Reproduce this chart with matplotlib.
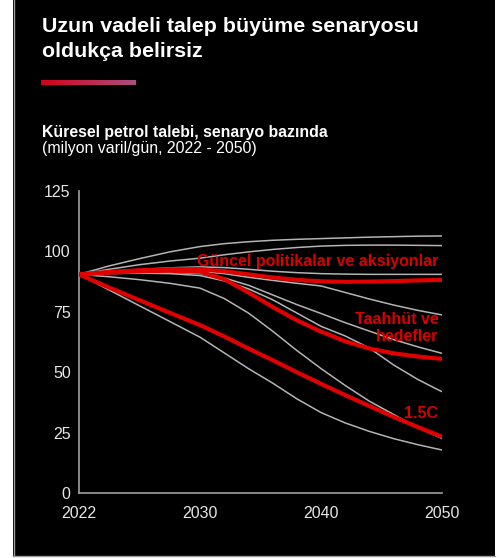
import numpy as np
import matplotlib
matplotlib.use("Agg")
import matplotlib.pyplot as plt
from matplotlib.patches import Rectangle
from matplotlib.lines import Line2D
from matplotlib.colors import LinearSegmentedColormap

plt.rcParams['font.family'] = ['Liberation Sans', 'DejaVu Sans']

# yillar ve senaryo egrileri (milyon varil/gun)
years = [2022, 2024, 2026, 2028, 2030, 2032, 2034, 2036, 2038, 2040, 2042, 2044, 2046, 2048, 2050]

gray_1 = [90.5, 94.0, 97.0, 99.8, 102.0, 103.2, 104.0, 104.6, 105.0, 105.3, 105.6, 105.9, 106.1, 106.3, 106.4]
gray_2 = [90.5, 92.6, 94.5, 96.0, 97.2, 98.6, 99.8, 100.8, 101.6, 102.2, 102.5, 102.6, 102.6, 102.5, 102.4]
gray_3 = [90.5, 91.5, 92.5, 93.2, 93.6, 93.3, 92.6, 91.8, 91.2, 90.8, 90.6, 90.5, 90.5, 90.5, 90.5]
gray_4 = [90.5, 91.2, 91.8, 92.0, 91.8, 90.8, 89.3, 88.0, 86.8, 85.7, 83.0, 80.3, 77.8, 75.6, 73.7]
gray_5 = [90.5, 91.0, 91.4, 91.4, 90.8, 89.0, 86.0, 82.0, 78.0, 74.3, 70.5, 67.0, 63.5, 60.5, 57.8]
gray_6 = [90.5, 90.8, 91.0, 90.8, 90.0, 87.8, 84.5, 80.0, 74.5, 69.0, 65.0, 60.0, 53.0, 47.0, 41.9]
gray_7 = [90.5, 89.5, 88.3, 86.8, 84.8, 80.5, 74.5, 67.0, 59.0, 51.5, 44.5, 38.0, 32.5, 27.0, 22.6]
gray_8 = [90.5, 84.0, 77.5, 71.0, 64.5, 58.0, 51.5, 45.5, 39.0, 33.3, 29.0, 25.5, 22.5, 20.0, 17.8]

current_policies = [90.5, 91.5, 92.2, 92.6, 92.6, 91.8, 90.5, 89.2, 88.2, 87.6, 87.4, 87.5, 87.7, 88.0, 88.2]
pledges = [90.5, 91.2, 91.8, 92.0, 91.6, 88.5, 83.0, 77.0, 71.5, 66.8, 62.8, 59.8, 57.8, 56.5, 55.5]
paris_15 = [90.5, 85.0, 79.8, 74.6, 69.5, 64.8, 59.8, 55.0, 50.0, 45.2, 40.5, 36.0, 31.5, 27.3, 23.3]

tick_years = [2022, 2030, 2040, 2050]
y_ticks = [0, 25, 50, 75, 100, 125]

W, H = 500, 558
fig = plt.figure(figsize=(W / 100, H / 100), dpi=100)
fig.patch.set_facecolor('white')

# siyah panel, solda ve altta gri kenar
fig.patches.append(Rectangle((13 / W, 2 / H), 482 / W, 1 - 2 / H, transform=fig.transFigure,
                             facecolor='black', edgecolor='none', zorder=-5))
fig.lines.append(Line2D([13.5 / W, 13.5 / W], [2 / H, 1], transform=fig.transFigure,
                        color='#9a9a9a', linewidth=1.0, zorder=-4))
fig.lines.append(Line2D([13 / W, 495 / W], [2.5 / H, 2.5 / H], transform=fig.transFigure,
                        color='#9a9a9a', linewidth=1.0, zorder=-4))

fig.text(42 / W, 1 - 32 / H, "Uzun vadeli talep büyüme senaryosu", color='white',
         fontsize=15.4, fontweight='bold', va='baseline')
fig.text(42 / W, 1 - 57 / H, "oldukça belirsiz", color='white',
         fontsize=15.4, fontweight='bold', va='baseline')

# renk gecisli cizgi
bar_ax = fig.add_axes([41 / W, 1 - 85 / H, 95 / W, 5 / H])
grad = LinearSegmentedColormap.from_list('bar', ['#d4001a', '#a8507f'])
bar_ax.imshow(np.linspace(0, 1, 200).reshape(1, -1), cmap=grad, aspect='auto')
bar_ax.axis('off')

fig.text(42 / W, 1 - 137 / H, "Küresel petrol talebi, senaryo bazında", color='white',
         fontsize=11.4, fontweight='bold', va='baseline')
fig.text(42 / W, 1 - 153 / H, "(milyon varil/gün, 2022 - 2050)", color='white',
         fontsize=11.4, va='baseline')

ax = fig.add_axes([79 / W, 1 - 493 / H, 363 / W, 302 / H])
ax.set_facecolor('black')

# etiketli yillar esit aralikli
def fwd(x):
    return np.interp(x, tick_years, [0, 1, 2, 3])

def inv(x):
    return np.interp(x, [0, 1, 2, 3], tick_years)

ax.set_xscale('function', functions=(fwd, inv))

for g in [gray_1, gray_2, gray_3, gray_4, gray_5, gray_6, gray_7, gray_8]:
    ax.plot(years, g, color='#b4b4b4', linewidth=1.1, solid_capstyle='butt', zorder=2)

red = '#e00000'
for r in [current_policies, pledges, paris_15]:
    ax.plot(years, r, color=red, linewidth=3.0, solid_capstyle='butt', zorder=3)

label_red = '#d80000'
ax.text(2049.7, 96, "Güncel politikalar ve aksiyonlar", color=label_red, fontsize=11.5,
        fontweight='bold', ha='right', va='center', zorder=4)
ax.text(2049.7, 68.3, "Taahhüt ve\nhedefler", color=label_red, fontsize=11.5,
        fontweight='bold', ha='right', va='center', linespacing=1.2, zorder=4)
ax.text(2049.7, 33.1, "1.5C", color=label_red, fontsize=11.5,
        fontweight='bold', ha='right', va='center', zorder=4)

ax.set_xlim(2022, 2050)
ax.set_ylim(0, 125)
ax.set_xticks(tick_years)
ax.set_xticklabels([str(t) for t in tick_years])
ax.set_yticks(y_ticks)
ax.tick_params(length=0, colors='#e6e6e6', labelsize=11.5)
ax.tick_params(axis='x', pad=9)
ax.tick_params(axis='y', pad=6)
for s in ['top', 'right']:
    ax.spines[s].set_visible(False)
for s in ['left', 'bottom']:
    ax.spines[s].set_color('#a0a0a0')
    ax.spines[s].set_linewidth(1.2)

fig.savefig('out.png', dpi=100, facecolor='white')
